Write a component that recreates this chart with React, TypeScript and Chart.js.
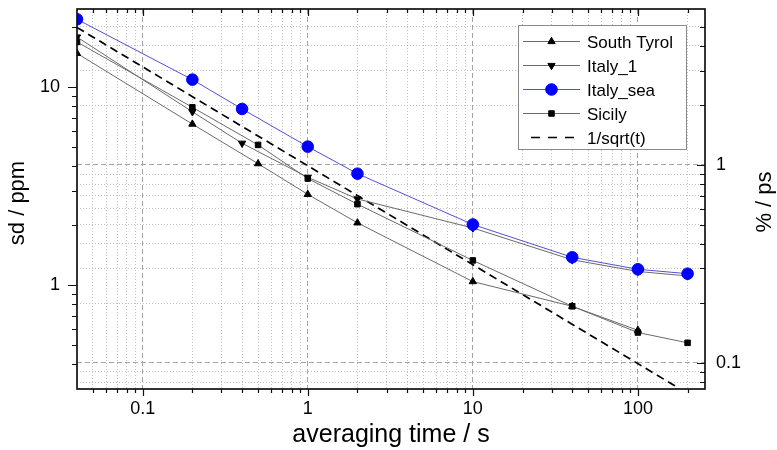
import React, { useEffect, useRef } from 'react';
import { Chart, registerables } from 'chart.js';

Chart.register(...registerables);

// Allan-type deviation (sd, ppm) versus averaging time (s)
const SOUTH_TYROL_T = [0.04, 0.2, 0.5, 1, 2, 10, 40, 100];
const SOUTH_TYROL = [14.8, 6.5, 4.1, 2.87, 2.06, 1.04, 0.78, 0.59];

const ITALY_1_T = [0.04, 0.2, 0.4, 1, 2, 10, 40, 100, 200];
const ITALY_1 = [17.9, 7.5, 5.2, 3.5, 2.72, 1.94, 1.34, 1.17, 1.11];

const ITALY_SEA_T = [0.04, 0.2, 0.4, 1, 2, 10, 40, 100, 200];
const ITALY_SEA = [22.0, 10.9, 7.75, 5.0, 3.65, 2.02, 1.38, 1.2, 1.14];

const SICILY_T = [0.04, 0.2, 0.5, 1, 2, 10, 40, 100, 200];
const SICILY = [16.9, 7.9, 5.1, 3.45, 2.56, 1.33, 0.78, 0.575, 0.51];

// 1/sqrt(t) reference slope
const REF_T = [0.04, 170];
const REF = [20, 0.307];

// axis ranges
const X_MIN = 0.04;
const X_MAX = 255;
const Y_MIN = 0.298;
const Y_MAX = 24.8;
const PPM_PER_PERCENT = 4.04;

// tick positions and labelled ticks
const X_TICKS = [0.05, 0.06, 0.07, 0.08, 0.09, 0.1, 0.2, 0.3, 0.4, 0.5, 0.6, 0.7, 0.8, 0.9, 1, 2, 3, 4, 5, 6, 7, 8, 9, 10, 20, 30, 40, 50, 60, 70, 80, 90, 100, 200];
const Y_TICKS = [0.4, 0.5, 0.6, 0.7, 0.8, 0.9, 1, 2, 3, 4, 5, 6, 7, 8, 9, 10, 20];
const PCT_TICKS = [0.08, 0.09, 0.1, 0.2, 0.3, 0.4, 0.5, 0.6, 0.7, 0.8, 0.9, 1, 2, 3, 4, 5];
const X_LABELS = [0.1, 1, 10, 100];
const Y_LABELS = [1, 10];
const PCT_LABELS = [0.1, 1];

const X_TITLE = 'averaging time / s';
const Y_TITLE = 'sd / ppm';
const Y2_TITLE = '% / ps';

const FONT = '"Liberation Sans", Arial, Helvetica, sans-serif';
const LINE_GRAY = '#6a6a6a';
const BLUE_LINE = '#5050d8';
const BLUE = '#0000ff';
const MAJOR_GRID = '#a4a4a4';
const MINOR_GRID = '#c2c2c2';

const isDecade = (v: number) => Math.abs(Math.log10(v) - Math.round(Math.log10(v))) < 1e-9;
const pts = (t: number[], v: number[]) => t.map((x, i) => ({ x, y: v[i] }));

const gridColor = (ctx: any) => (ctx.tick && isDecade(ctx.tick.value) ? MAJOR_GRID : MINOR_GRID);
const gridDash = (ctx: any) => (ctx.tick && isDecade(ctx.tick.value) ? [5, 3] : [1, 2]);

function drawMarker(ctx: CanvasRenderingContext2D, style: string, x: number, y: number, r: number, rot: number, fill: string) {
  ctx.save();
  ctx.translate(x, y);
  ctx.rotate(((rot || 0) * Math.PI) / 180);
  ctx.fillStyle = fill;
  ctx.strokeStyle = fill;
  ctx.lineWidth = 1;
  ctx.setLineDash([]);
  ctx.beginPath();
  if (style === 'circle') {
    ctx.arc(0, 0, r, 0, Math.PI * 2);
  } else if (style === 'triangle') {
    for (let k = 0; k < 3; k++) {
      const a = (k * 2 * Math.PI) / 3;
      if (k === 0) ctx.moveTo(Math.sin(a) * r, -Math.cos(a) * r);
      else ctx.lineTo(Math.sin(a) * r, -Math.cos(a) * r);
    }
    ctx.closePath();
  } else if (style === 'rect') {
    const s = r * Math.SQRT1_2;
    ctx.rect(-s, -s, 2 * s, 2 * s);
  }
  ctx.fill();
  ctx.stroke();
  ctx.restore();
}

// frame, tick marks, axis titles and legend
const decorations = {
  id: 'decorations',
  afterDatasetsDraw(chart: any) {
    const { ctx, chartArea: a, scales } = chart;
    const xs = scales.x;
    const ys = scales.y;
    const ps = scales.y2;
    ctx.save();
    ctx.strokeStyle = '#111';
    ctx.lineWidth = 1.2;
    ctx.setLineDash([]);
    ctx.beginPath();
    X_TICKS.forEach((v) => {
      const px = Math.round(xs.getPixelForValue(v)) + 0.5;
      const len = isDecade(v) ? 7 : 4;
      ctx.moveTo(px, a.bottom);
      ctx.lineTo(px, a.bottom + len);
      ctx.moveTo(px, a.top);
      ctx.lineTo(px, a.top + len);
    });
    Y_TICKS.forEach((v) => {
      const py = Math.round(ys.getPixelForValue(v)) + 0.5;
      const len = isDecade(v) ? 9 : 5;
      ctx.moveTo(a.left, py);
      ctx.lineTo(a.left - len, py);
    });
    PCT_TICKS.forEach((v) => {
      const py = Math.round(ps.getPixelForValue(v)) + 0.5;
      const len = isDecade(v) ? 8 : 5;
      ctx.moveTo(a.right, py);
      ctx.lineTo(a.right - len, py);
    });
    ctx.stroke();

    ctx.lineWidth = 1.7;
    ctx.strokeStyle = '#111';
    ctx.strokeRect(a.left, a.top, a.right - a.left, a.bottom - a.top);
    ctx.restore();
  },
  afterDraw(chart: any) {
    const { ctx, chartArea: a } = chart;
    ctx.save();
    ctx.fillStyle = '#000';

    // axis titles
    ctx.font = `25px ${FONT}`;
    ctx.textAlign = 'center';
    ctx.textBaseline = 'alphabetic';
    ctx.fillText(X_TITLE, (a.left + a.right) / 2, 442);

    ctx.font = `22px ${FONT}`;
    ctx.save();
    ctx.translate(24, 203);
    ctx.rotate(-Math.PI / 2);
    ctx.fillText(Y_TITLE, 0, 0);
    ctx.restore();

    ctx.save();
    ctx.translate(771, 202);
    ctx.rotate(-Math.PI / 2);
    ctx.fillText(Y2_TITLE, 0, 0);
    ctx.restore();

    // legend
    const left = a.right - 187;
    const top = a.top + 16;
    const w = 168;
    const h = 124;
    ctx.fillStyle = '#fff';
    ctx.fillRect(left, top, w, h);
    ctx.strokeStyle = '#8a8a8a';
    ctx.lineWidth = 1;
    ctx.strokeRect(left + 0.5, top + 0.5, w, h);

    ctx.font = `17px ${FONT}`;
    ctx.textAlign = 'left';
    chart.data.datasets.forEach((ds: any, i: number) => {
      const y = Math.round(top + 16 + i * 24) + 0.5;
      ctx.save();
      ctx.strokeStyle = ds.borderColor;
      ctx.lineWidth = ds.borderWidth;
      ctx.beginPath();
      if (ds.borderDash) {
        ctx.setLineDash([9, 8]);
        ctx.moveTo(left + 13, y);
        ctx.lineTo(left + 57, y);
      } else {
        ctx.moveTo(left + 5, y);
        ctx.lineTo(left + 62, y);
      }
      ctx.stroke();
      ctx.restore();
      if (ds.pointRadius > 0) {
        drawMarker(ctx, ds.pointStyle, left + 33.5, y, ds.pointRadius, ds.pointRotation, ds.pointBackgroundColor);
      }
      ctx.fillStyle = '#000';
      ctx.fillText(ds.label, left + 69, y + 6);
    });
    ctx.restore();
  },
};

export default function App() {
  const canvasRef = useRef<HTMLCanvasElement>(null);

  useEffect(() => {
    const canvas = canvasRef.current;
    if (!canvas) return;

    const series = (label: string, t: number[], v: number[], extra: any) => ({
      label,
      data: pts(t, v),
      showLine: true,
      borderColor: LINE_GRAY,
      borderWidth: 1,
      pointBackgroundColor: '#000',
      pointBorderColor: '#000',
      pointBorderWidth: 1,
      pointRadius: 4,
      ...extra,
    });

    const tickFont = { family: FONT, size: 18 };

    const chart = new Chart(canvas, {
      type: 'scatter',
      data: {
        datasets: [
          series('South Tyrol', SOUTH_TYROL_T, SOUTH_TYROL, { pointStyle: 'triangle', pointRadius: 4.2, order: 2 }),
          series('Italy_1', ITALY_1_T, ITALY_1, { pointStyle: 'triangle', pointRadius: 4.2, pointRotation: 180, order: 2 }),
          series('Italy_sea', ITALY_SEA_T, ITALY_SEA, {
            pointStyle: 'circle',
            pointRadius: 5.8,
            borderColor: BLUE_LINE,
            pointBackgroundColor: BLUE,
            pointBorderColor: BLUE,
            order: 0,
          }),
          series('Sicily', SICILY_T, SICILY, { pointStyle: 'rect', pointRadius: 3.9, order: 1 }),
          series('1/sqrt(t)', REF_T, REF, {
            borderColor: '#000',
            borderWidth: 1.7,
            borderDash: [8, 5],
            pointRadius: 0,
            order: 3,
          }),
        ],
      },
      options: {
        animation: false,
        responsive: true,
        maintainAspectRatio: false,
        events: [],
        layout: { padding: { top: 9, left: 0, right: 0, bottom: 0 } },
        plugins: { legend: { display: false }, tooltip: { enabled: false } },
        scales: {
          x: {
            type: 'logarithmic',
            position: 'bottom',
            min: X_MIN,
            max: X_MAX,
            afterBuildTicks: (s: any) => {
              s.ticks = X_TICKS.map((value) => ({ value }));
            },
            afterFit: (s: any) => {
              s.height = 61;
              s.paddingLeft = 0;
              s.paddingRight = 0;
            },
            grid: { drawTicks: false, color: gridColor, lineWidth: 1 },
            border: { display: false, dash: gridDash },
            ticks: {
              autoSkip: false,
              maxRotation: 0,
              padding: 9,
              color: '#000',
              font: tickFont,
              callback: (v: any) => (X_LABELS.includes(v) ? String(v) : ''),
            },
          },
          y: {
            type: 'logarithmic',
            position: 'left',
            min: Y_MIN,
            max: Y_MAX,
            afterBuildTicks: (s: any) => {
              s.ticks = Y_TICKS.map((value) => ({ value }));
            },
            afterFit: (s: any) => {
              s.width = 77;
              s.paddingTop = 0;
              s.paddingBottom = 0;
            },
            grid: { display: false, drawTicks: false },
            border: { display: false },
            ticks: {
              autoSkip: false,
              padding: 17,
              color: '#000',
              font: tickFont,
              callback: (v: any) => (Y_LABELS.includes(v) ? String(v) : ''),
            },
          },
          y2: {
            type: 'logarithmic',
            position: 'right',
            min: Y_MIN / PPM_PER_PERCENT,
            max: Y_MAX / PPM_PER_PERCENT,
            afterBuildTicks: (s: any) => {
              s.ticks = PCT_TICKS.map((value) => ({ value }));
            },
            afterFit: (s: any) => {
              s.width = 72;
              s.paddingTop = 0;
              s.paddingBottom = 0;
            },
            grid: { drawTicks: false, color: gridColor, lineWidth: 1 },
            border: { display: false, dash: gridDash },
            ticks: {
              autoSkip: false,
              padding: 11,
              color: '#000',
              font: tickFont,
              callback: (v: any) => (PCT_LABELS.includes(v) ? String(v) : ''),
            },
          },
        },
      } as any,
      plugins: [decorations],
    } as any);

    return () => chart.destroy();
  }, []);

  return (
    <div style={{ position: 'absolute', left: 0, top: 0, width: 777, height: 450, background: '#fff' }}>
      <canvas ref={canvasRef} />
    </div>
  );
}
